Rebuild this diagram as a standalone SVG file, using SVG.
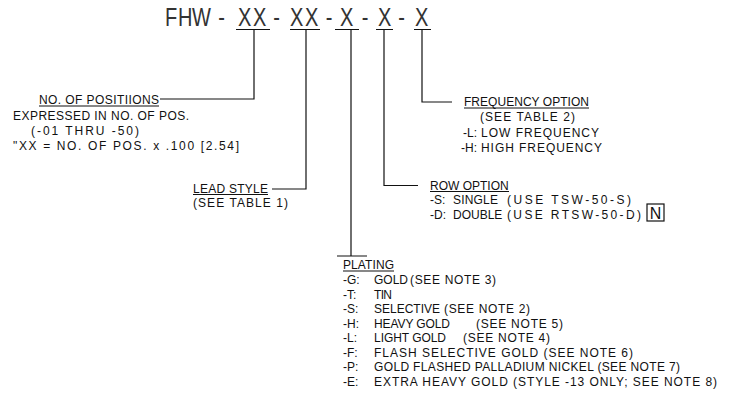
<svg xmlns="http://www.w3.org/2000/svg" width="730" height="393" viewBox="0 0 730 393">
<style>
.t{font-family:"Liberation Sans",Arial,sans-serif;font-size:12px;fill:#111}
.ttl{font-family:"Liberation Sans",Arial,sans-serif;font-size:25px;fill:#333}
.ln{stroke:#111;stroke-width:1.2;fill:none}
</style>
<rect width="730" height="393" fill="#fff"/>
<g id="title">
<text class="ttl" transform="scale(0.8 1)" y="26" x="206.25 222.5 240 272.75 297.5 316.25 341.5 362.5 381.25 407.1 425 452.1 472.5 497.75 518.75">FHW-XX-XX-X-X-X</text>
<path class="ln" d="M236 29.5H270M290 29.5H320M335 29.5H359M376 29.5H393M414 29.5H431"/>
</g>
<g id="connectors">
<path class="ln" d="M254 29.5V99H160"/>
<path class="ln" d="M306 29.5V189H272"/>
<path class="ln" d="M351 29.5V256M337 256H367"/>
<path class="ln" d="M384 29.5V185.5H418"/>
<path class="ln" d="M422 29.5V102H452"/>
</g>
<g id="positions">
<text class="t" x="39" y="104" textLength="120" lengthAdjust="spacing">NO. OF POSITIIONS</text>
<path class="ln" d="M39 106H159"/>
<text class="t" x="13" y="119.5" textLength="176" lengthAdjust="spacing">EXPRESSED IN NO. OF POS.</text>
<text class="t" x="31" y="134.5" textLength="108" lengthAdjust="spacing">(-01 THRU -50)</text>
<text class="t" x="13" y="149.5" textLength="226" lengthAdjust="spacing">"XX = NO. OF POS. x .100 [2.54]</text>
</g>
<g id="lead-style">
<text class="t" x="193" y="192.5" textLength="75" lengthAdjust="spacing">LEAD STYLE</text>
<path class="ln" d="M193 194.5H268"/>
<text class="t" x="193" y="207" textLength="95" lengthAdjust="spacing">(SEE TABLE 1)</text>
</g>
<g id="frequency">
<text class="t" x="464" y="106" textLength="125" lengthAdjust="spacing">FREQUENCY OPTION</text>
<path class="ln" d="M464 108H589"/>
<text class="t" x="480" y="121" textLength="95" lengthAdjust="spacing">(SEE TABLE 2)</text>
<text class="t" y="136.5"><tspan x="463">-L:</tspan><tspan x="481" textLength="118" lengthAdjust="spacing">LOW FREQUENCY</tspan></text>
<text class="t" y="152"><tspan x="461">-H:</tspan><tspan x="481" textLength="121" lengthAdjust="spacing">HIGH FREQUENCY</tspan></text>
</g>
<g id="row-option">
<text class="t" x="430" y="189.5">ROW OPTION</text>
<path class="ln" d="M430 191.5H509"/>
<text class="t" y="204"><tspan x="430">-S:</tspan><tspan x="453" textLength="45" lengthAdjust="spacing">SINGLE</tspan><tspan x="507" textLength="124" lengthAdjust="spacing">(USE TSW-50-S)</tspan></text>
<text class="t" y="218.5"><tspan x="430">-D:</tspan><tspan x="453">DOUBLE</tspan><tspan x="507" textLength="134" lengthAdjust="spacing">(USE RTSW-50-D)</tspan></text>
<rect class="ln" x="647" y="204" width="17" height="17"/>
<text class="t" x="655.5" y="218.5" text-anchor="middle" style="font-size:16px">N</text>
</g>
<g id="plating">
<text class="t" x="343" y="269" textLength="51" lengthAdjust="spacing">PLATING</text>
<path class="ln" d="M343 271H394"/>
<text class="t" y="284"><tspan x="343">-G:</tspan><tspan x="374">GOLD</tspan><tspan x="410" textLength="86" lengthAdjust="spacing">(SEE NOTE 3)</tspan></text>
<text class="t" y="298.5"><tspan x="343">-T:</tspan><tspan x="374" textLength="18" lengthAdjust="spacing">TIN</tspan></text>
<text class="t" y="313"><tspan x="343">-S:</tspan><tspan x="374">SELECTIVE</tspan><tspan x="444" textLength="86" lengthAdjust="spacing">(SEE NOTE 2)</tspan></text>
<text class="t" y="327.5"><tspan x="343">-H:</tspan><tspan x="374" textLength="76" lengthAdjust="spacing">HEAVY GOLD</tspan><tspan x="476" textLength="87" lengthAdjust="spacing">(SEE NOTE 5)</tspan></text>
<text class="t" y="342"><tspan x="343">-L:</tspan><tspan x="374" textLength="72" lengthAdjust="spacing">LIGHT GOLD</tspan><tspan x="463" textLength="87" lengthAdjust="spacing">(SEE NOTE 4)</tspan></text>
<text class="t" y="356.5"><tspan x="343">-F:</tspan><tspan x="374" textLength="259" lengthAdjust="spacing">FLASH SELECTIVE GOLD (SEE NOTE 6)</tspan></text>
<text class="t" y="371"><tspan x="343">-P:</tspan><tspan x="374" textLength="306" lengthAdjust="spacing">GOLD FLASHED PALLADIUM NICKEL (SEE NOTE 7)</tspan></text>
<text class="t" y="385.5"><tspan x="343">-E:</tspan><tspan x="374" textLength="343" lengthAdjust="spacing">EXTRA HEAVY GOLD (STYLE -13 ONLY; SEE NOTE 8)</tspan></text>
</g>
</svg>
